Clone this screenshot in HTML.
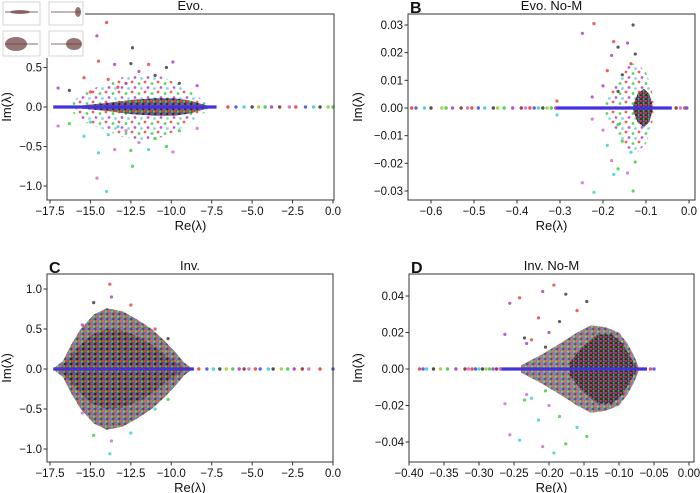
<!DOCTYPE html>
<html><head><meta charset="utf-8"><style>
body{margin:0;background:#fff;}
svg{display:block;font-family:"Liberation Sans",sans-serif;}
</style></head><body>
<svg id="fig" width="700" height="493" viewBox="0 0 700 493">
<defs>
<pattern id="sparse" width="13" height="10" patternUnits="userSpaceOnUse">
<circle cx="2" cy="2" r="1.4" fill="#e33" opacity="0.8"/>
<circle cx="9" cy="3.5" r="1.4" fill="#3c3" opacity="0.8"/>
<circle cx="5" cy="7.5" r="1.4" fill="#a3c" opacity="0.8"/>
<circle cx="11.5" cy="8.5" r="1.4" fill="#3bc" opacity="0.6"/>
</pattern>
<pattern id="dense" width="6" height="5" patternUnits="userSpaceOnUse">
<rect width="6" height="5" fill="#6a4050"/>
<circle cx="1" cy="1" r="1.3" fill="#e33"/>
<circle cx="4" cy="1.5" r="1.3" fill="#3c3"/>
<circle cx="2.5" cy="3.8" r="1.3" fill="#55e"/>
<circle cx="5.3" cy="4" r="1.2" fill="#222"/>
</pattern>
<pattern id="dark" width="5" height="4" patternUnits="userSpaceOnUse">
<rect width="5" height="4" fill="#3a2030"/>
<circle cx="1" cy="1" r="1.1" fill="#c33"/>
<circle cx="3.6" cy="2.8" r="1.1" fill="#4a4"/>
<circle cx="3.8" cy="0.6" r="1" fill="#55d"/>
</pattern>
</defs>
</svg>
<script>
// ---- data arrays ----
// Panel A (Evo.)
const aOuter = [[-16.2,0.05],[-15.5,0.18],[-14.5,0.26],[-13,0.38],[-11.8,0.42],[-10.5,0.38],[-9.5,0.28],[-8.7,0.18],[-8,0.08],[-7.5,0.02]];
const aInner = [[-15.5,0.02],[-14,0.05],[-12.5,0.09],[-11,0.11],[-9.8,0.11],[-8.8,0.08],[-8.0,0.03],[-7.6,0.01]];
const aOut = [[-14,1.07],[-14.6,0.9],[-12.4,0.75],[-14.5,0.58],[-17,0.24],[-16.3,0.21],[-15.4,0.37],[-13.5,0.54],[-12.5,0.55],[-11.4,0.54],[-9.9,0.57],[-10.3,0.5],[-13.9,0.35],[-12,0.45],[-11,0.4],[-15,0.19],[-8.4,0.27],[-9.5,0.3],[-13.3,0.25],[-12.8,0.3]];
const aAxis = [-6.5,-6,-5.5,-5,-4.6,-4.2,-3.8,-3.3,-2.7,-2.3,-1.7,-1.2,-0.8,-0.3,0];
const aCore = [-17.3,-7.2];
// Panel B (Evo. No-M)
const bOuter = [[-0.2,0.001],[-0.18,0.006],[-0.16,0.012],[-0.14,0.016],[-0.12,0.016],[-0.1,0.013],[-0.088,0.008],[-0.082,0.002]];
const bInner = [[-0.13,0.001],[-0.12,0.005],[-0.105,0.007],[-0.092,0.005],[-0.085,0.001]];
const bOut = [[-0.221,0.0305],[-0.248,0.027],[-0.13,0.030],[-0.175,0.024],[-0.143,0.0235],[-0.165,0.022],[-0.19,0.0135],[-0.18,0.019],[-0.125,0.0195],[-0.307,0.0025],[-0.2,0.008],[-0.155,0.012],[-0.135,0.016],[-0.225,0.004],[-0.165,0.006]];
const bAxis = [-0.645,-0.635,-0.615,-0.6,-0.575,-0.565,-0.55,-0.53,-0.515,-0.505,-0.49,-0.475,-0.455,-0.445,-0.43,-0.41,-0.39,-0.38,-0.37,-0.36,-0.35,-0.34,-0.33,-0.32,-0.31,-0.03,-0.02,-0.01,-0.005];
const bCore = [-0.31,-0.04];
// Panel C (Inv.)
const cOuter = [[-17.2,0.02],[-16.7,0.1],[-16.2,0.3],[-15.6,0.5],[-14.8,0.68],[-14,0.76],[-13,0.72],[-12.2,0.63],[-11.2,0.5],[-10.4,0.35],[-9.7,0.2],[-9.2,0.08],[-8.8,0.02]];
const cInner = [[-16.8,0.03],[-16,0.22],[-15,0.42],[-14,0.5],[-13,0.48],[-12,0.4],[-11,0.28],[-10.2,0.15],[-9.5,0.05],[-9.1,0.01]];
const cOut = [[-13.8,1.06],[-13.7,0.9],[-14.8,0.83],[-12.5,0.8],[-15.5,0.55],[-10.2,0.38],[-11,0.5]];
const cAxis = [-8.3,-7.8,-7.4,-7,-6.6,-6.2,-5.8,-5.5,-5.2,-4.8,-4.5,-4.0,-3.7,-3.2,-2.8,-2.4,-1.9,-1.5,-0.8,0];
const cCore = [-17.3,-8.6];
// Panel D (Inv. No-M)
const dOuter = [[-0.24,0.002],[-0.21,0.008],[-0.18,0.015],[-0.16,0.02],[-0.14,0.024],[-0.12,0.023],[-0.1,0.02],[-0.088,0.014],[-0.078,0.007],[-0.072,0.001]];
const dInner = [[-0.17,0.004],[-0.15,0.013],[-0.13,0.019],[-0.11,0.019],[-0.095,0.014],[-0.083,0.006],[-0.075,0.001]];
const dOut = [[-0.193,0.046],[-0.209,0.0425],[-0.176,0.041],[-0.242,0.039],[-0.256,0.036],[-0.146,0.037],[-0.215,0.028],[-0.263,0.019],[-0.235,0.017],[-0.225,0.016],[-0.2,0.02],[-0.185,0.026],[-0.16,0.032],[-0.232,0.014],[-0.205,0.012]];
const dAxis = [-0.385,-0.38,-0.375,-0.365,-0.355,-0.345,-0.333,-0.32,-0.315,-0.31,-0.305,-0.3,-0.295,-0.29,-0.285,-0.28,-0.275,-0.27,-0.055,-0.05];
const dCore = [-0.27,-0.06];
// ticks
const aXT=[-17.5,-15,-12.5,-10,-7.5,-5,-2.5,0], aXL=["−17.5","−15.0","−12.5","−10.0","−7.5","−5.0","−2.5","0.0"];
const aYT=[-1,-0.5,0,0.5], aYL=["−1.0","−0.5","0.0","0.5"];
const bXT=[-0.6,-0.5,-0.4,-0.3,-0.2,-0.1,0], bXL=["−0.6","−0.5","−0.4","−0.3","−0.2","−0.1","0.0"];
const bYT=[-0.03,-0.02,-0.01,0,0.01,0.02,0.03], bYL=["−0.03","−0.02","−0.01","0.00","0.01","0.02","0.03"];
const cYT=[-1,-0.5,0,0.5,1], cYL=["−1.0","−0.5","0.0","0.5","1.0"];
const dXT=[-0.4,-0.35,-0.3,-0.25,-0.2,-0.15,-0.1,-0.05,0], dXL=["−0.40","−0.35","−0.30","−0.25","−0.20","−0.15","−0.10","−0.05","0.00"];
const dYT=[-0.04,-0.02,0,0.02,0.04], dYL=["−0.04","−0.02","0.00","0.02","0.04"];

const NS="http://www.w3.org/2000/svg";
const svg=document.getElementById('fig');
const COLS=["#e33","#3c3","#44e","#a3c","#3cc","#822","#333","#c6c","#9c3"];
function mk(t,a,p){const e=document.createElementNS(NS,t);for(const k in a)e.setAttribute(k,a[k]);(p||svg).appendChild(e);return e;}

function panel(cfg){
  const g=mk('g',{});
  
  
  const X=v=>cfg.x0px+(v-cfg.x0)*(cfg.x1px-cfg.x0px)/(cfg.x1-cfg.x0);
  const Y=v=>cfg.y0px+(v-cfg.y0)*(cfg.y1px-cfg.y0px)/(cfg.y1-cfg.y0);
  const L=cfg.box[0],T=cfg.box[1],R=cfg.box[2],B=cfg.box[3];
  function env(arr,fill,op,nm){
    const pts=arr.map(p=>X(p[0])+','+Y(p[1])).concat(arr.slice().reverse().map(p=>X(p[0])+','+Y(-p[1])));
    const pg=mk('polygon',{points:pts.join(' '),fill:fill,opacity:op},g);
    
    
  }
  env(cfg.outer,cfg.outerFill,cfg.outerOp,'scatter-cloud-outer');
  env(cfg.inner,cfg.innerFill,0.95,'scatter-cloud-core');
  cfg.out.forEach((p,i)=>{[1,-1].forEach(s=>{
    const c=mk('circle',{cx:X(p[0]),cy:Y(s*p[1]),r:1.6,fill:COLS[(i*3+(s>0?0:4))%COLS.length],opacity:0.8},g);
    
    
  });});
  const ln=mk('line',{x1:X(cfg.core[0]),x2:X(cfg.core[1]),y1:Y(0),y2:Y(0),stroke:'#4433dd','stroke-width':3.2},g);
  
  
  cfg.axis.forEach((v,i)=>{
    const c=mk('circle',{cx:X(v),cy:Y(0),r:1.7,fill:COLS[(i*2)%COLS.length],opacity:0.85},g);
    
    
  });
  const fr=mk('rect',{x:L,y:T,width:R-L,height:B-T,fill:'none',stroke:'#333','stroke-width':1},g);
  
  
  cfg.xt.forEach((v,i)=>{
    mk('line',{x1:X(v),x2:X(v),y1:B,y2:B+3.5,stroke:'#333'},g);
    const t=mk('text',{x:X(v),y:B+15,'font-size':11.5,'text-anchor':'middle',fill:'#111'},g);
    t.textContent=cfg.xl[i];
    
    
  });
  cfg.yt.forEach((v,i)=>{
    mk('line',{x1:L-3.5,x2:L,y1:Y(v),y2:Y(v),stroke:'#333'},g);
    const t=mk('text',{x:L-5,y:Y(v)+4,'font-size':11.5,'text-anchor':'end',fill:'#111'},g);
    t.textContent=cfg.yl[i];
    
    
  });
  const xt=mk('text',{x:(L+R)/2,y:B+30,'font-size':13,'text-anchor':'middle',fill:'#111'},g);
  xt.textContent='Re(λ)';
  
  
  const yx=cfg.ylabX, yy=(T+B)/2;
  const yt=mk('text',{x:yx,y:yy,'font-size':13,'text-anchor':'middle',fill:'#111',transform:`rotate(-90 ${yx} ${yy})`},g);
  yt.textContent='Im(λ)';
  
  
  const tt=mk('text',{x:(L+R)/2,y:T-4,'font-size':13,'text-anchor':'middle',fill:'#111'},g);
  tt.textContent=cfg.title;
  
  
  if(cfg.letter){
    const lt=mk('text',{x:L+2,y:T-1,'font-size':16,'font-weight':'bold',fill:'#111'},g);
    lt.textContent=cfg.letter;
    
    
  }
}

panel({name:'panel-a-evo',title:'Evo.',letter:'',box:[47,14,334,200],x0:-17.5,x1:0,x0px:50,x1px:333,y0:0,y1:1,y0px:107,y1px:28,
  outer:aOuter,inner:aInner,out:aOut,axis:aAxis,core:aCore,outerFill:'url(#sparse)',outerOp:1,innerFill:'url(#dense)',
  xt:aXT,xl:aXL,yt:aYT,yl:aYL,ylabX:11});
panel({name:'panel-b-evo-no-m',title:'Evo. No-M',letter:'B',box:[408,14,695,200],x0:-0.6,x1:0,x0px:431,x1px:689,y0:0,y1:0.03,y0px:108,y1px:25,
  outer:bOuter,inner:bInner,out:bOut,axis:bAxis,core:bCore,outerFill:'url(#sparse)',outerOp:1,innerFill:'url(#dark)',
  xt:bXT,xl:bXL,yt:bYT,yl:bYL,ylabX:362});
panel({name:'panel-c-inv',title:'Inv.',letter:'C',box:[47,274,333,462],x0:-17.5,x1:0,x0px:50,x1px:333,y0:0,y1:1,y0px:369,y1px:289,
  outer:cOuter,inner:cInner,out:cOut,axis:cAxis,core:cCore,outerFill:'url(#dense)',outerOp:0.8,innerFill:'url(#dense)',
  xt:aXT,xl:aXL,yt:cYT,yl:cYL,ylabX:11});
panel({name:'panel-d-inv-no-m',title:'Inv. No-M',letter:'D',box:[409,274,694,462],x0:-0.4,x1:0,x0px:409,x1px:689,y0:0,y1:0.04,y0px:369,y1px:296,
  outer:dOuter,inner:dInner,out:dOut,axis:dAxis,core:dCore,outerFill:'url(#dense)',outerOp:0.75,innerFill:'url(#dark)',
  xt:dXT,xl:dXL,yt:dYT,yl:dYL,ylabX:362});

const ins=mk('g',{});


mk('rect',{x:0,y:0,width:85,height:58,fill:'#fff'},ins);
[[3,2,37,23,20,12,10,2],[49,2,34,23,78,12,3,5],[3,31,37,25,16,44,11,7],[49,31,34,25,74,44,8,6]].forEach(b=>{
  const r=mk('rect',{x:b[0],y:b[1],width:b[2],height:b[3],fill:'#fff',stroke:'#bbb','stroke-width':0.6},ins);
  
  
  mk('line',{x1:b[0]+2,x2:b[0]+b[2]-2,y1:b[5],y2:b[5],stroke:'#6a3a3a','stroke-width':0.8},ins);
  mk('ellipse',{cx:b[4],cy:b[5],rx:b[6],ry:b[7],fill:'#6a3a3a',opacity:0.7},ins);
});
</script>
</body></html>
